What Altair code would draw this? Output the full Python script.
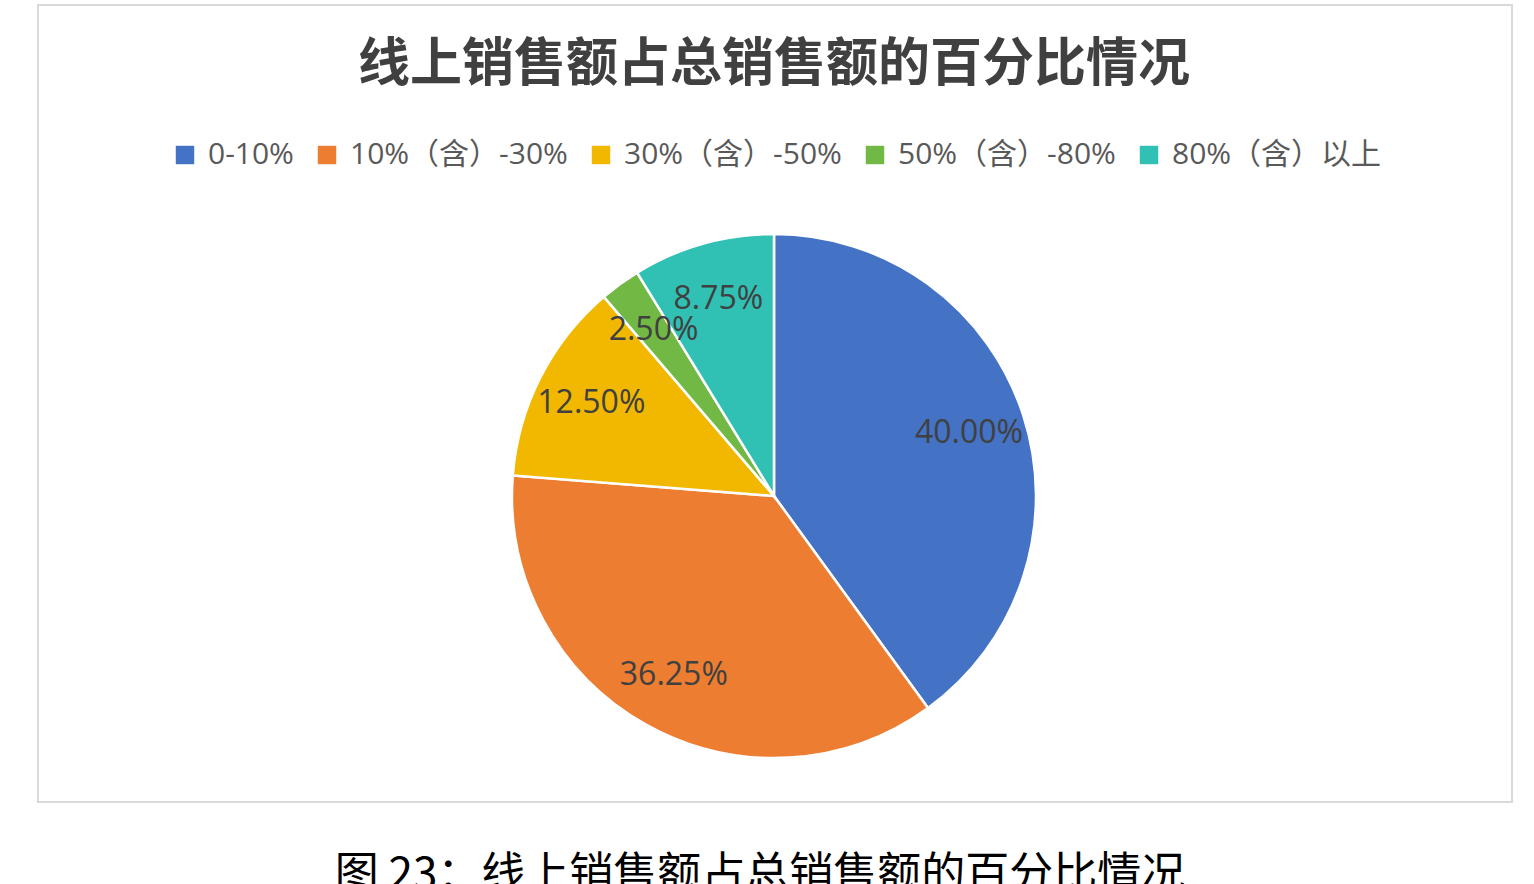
import altair as alt
import pandas as pd

categories = ["0-10%", "10%（含）-30%", "30%（含）-50%", "50%（含）-80%", "80%（含）以上"]
values = [40.00, 36.25, 12.50, 2.50, 8.75]
colors = ["#4472C4", "#ED7D31", "#F2B800", "#72B844", "#30C0B4"]
title_text = "线上销售额占总销售额的百分比情况"
caption_text = "图 23：线上销售额占总销售额的百分比情况"

df = pd.DataFrame({
    "category": categories,
    "value": values,
    "order": list(range(len(categories))),
    "label": [f"{v:.2f}%" for v in values],
})

LATIN = "Open Sans, Noto Sans CJK SC, sans-serif"
CJK = "Noto Sans CJK SC, sans-serif"

cx, cy, R = 774, 496, 262

base = alt.Chart(df).encode(
    theta=alt.Theta("value:Q", stack=True),
    order=alt.Order("order:Q"),
    x=alt.value(cx),
    y=alt.value(cy),
)

pie = base.mark_arc(radius=R, stroke="white", strokeWidth=2.5).encode(
    color=alt.Color(
        "category:N",
        scale=alt.Scale(domain=categories, range=colors),
        sort=categories,
        legend=alt.Legend(
            title=None,
            orient="none",
            legendX=170,
            legendY=140,
            direction="horizontal",
            columns=5,
            symbolType="square",
            symbolSize=340,
            symbolStrokeWidth=0,
            symbolOffset=0,
            labelFont=LATIN,
            labelFontSize=30,
            labelColor="#595959",
            labelOffset=8,
            labelLimit=600,
            columnPadding=18,
            padding=0,
        ),
    )
)

labels = base.mark_text(
    radius=205, font=LATIN, fontSize=32, color="#404040", baseline="middle", align="center"
).encode(text="label:N")

one = alt.Data(values=[{}])

border = alt.Chart(one).mark_rect(fill="transparent", stroke="#D9D9D9", strokeWidth=2).encode(
    x=alt.value(38), x2=alt.value(1512), y=alt.value(5), y2=alt.value(802)
)

title = alt.Chart(one).mark_text(
    text=title_text, font=CJK, fontSize=52, fontWeight="bold", color="#404040",
    align="center", baseline="middle"
).encode(x=alt.value(774), y=alt.value(65))

caption = alt.Chart(one).mark_text(
    text=caption_text, font=CJK, fontSize=44, color="#000000",
    align="center", baseline="middle"
).encode(x=alt.value(760), y=alt.value(876))

chart = alt.layer(border, pie, labels, title, caption).properties(
    width=1534, height=884, padding=0, autosize=alt.AutoSizeParams(type="none"),
    background="white",
).configure_view(strokeWidth=0)

chart.save("out.html", embed_options={"renderer": "svg", "actions": False})
